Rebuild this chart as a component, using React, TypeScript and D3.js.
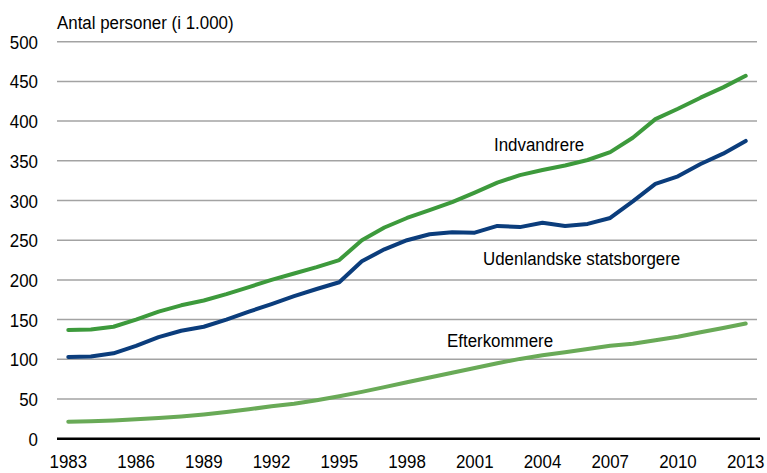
import React, { useRef, useEffect } from "react";
import * as d3 from "d3";

const years = d3.range(1983, 2014);
const yearTicks = [1983, 1986, 1989, 1992, 1995, 1998, 2001, 2004, 2007, 2010, 2013];
const yTicks = [0, 50, 100, 150, 200, 250, 300, 350, 400, 450, 500];

const indvandrere = [
  137, 137.5, 141, 150, 160, 168, 174, 182, 191, 200, 208, 216, 225, 250, 266, 278,
  288, 298, 310, 322.5, 332, 338.5, 344, 351, 361, 379, 402.5, 415.5, 429.5, 442.5, 457,
];
const udenlandske = [
  103, 103.5, 107.5, 117, 128, 136, 141, 150, 160, 169.5, 179.5, 188.5, 197, 223.5, 238.5, 250,
  257.5, 260, 259.5, 268, 266.5, 272, 268, 270.5, 278, 299, 321, 330.5, 346, 359, 375,
];
const efterkommere = [
  21.5, 22, 23, 24.5, 26, 28, 30.5, 33.5, 37, 41, 44, 48.5, 53.5, 59, 65, 71,
  77, 83, 89, 95, 100.5, 105, 109, 113, 117, 119.5, 124, 128.5, 134, 139.5, 145,
];

const series = [
  { name: "Indvandrere", values: indvandrere, color: "#3d9a3c", label: [494, 144] },
  { name: "Udenlandske statsborgere", values: udenlandske, color: "#0b3d7c", label: [483, 258] },
  { name: "Efterkommere", values: efterkommere, color: "#69aa57", label: [447, 340] },
];

const W = 767;
const H = 473;
const FONT = "'Liberation Sans', Arial, sans-serif";
const FS = 19;
const SX = 0.89;

const App = () => {
  const svgRef = useRef<SVGSVGElement>(null);

  useEffect(() => {
    const svg = d3.select(svgRef.current);
    svg.selectAll("*").remove();

    const x = d3.scalePoint<number>().domain(years).range([57, 757]).padding(0.5);
    const y = d3.scaleLinear().domain([0, 500]).range([438.7, 41.7]);

    // gridlines
    svg.append("g")
      .selectAll("line")
      .data(yTicks.filter(d => d > 0))
      .join("line")
      .attr("x1", 57)
      .attr("x2", 757)
      .attr("y1", d => y(d))
      .attr("y2", d => y(d))
      .attr("stroke", "#a3a3a3")
      .attr("stroke-width", 1.5);

    // y labels
    svg.append("g")
      .selectAll("text")
      .data(yTicks)
      .join("text")
      .attr("transform", d => `translate(38,${y(d) + 7}) scale(${SX},1)`)
      .attr("text-anchor", "end")
      .attr("font-family", FONT)
      .attr("font-size", FS)
      .attr("fill", "#000")
      .text(d => d);

    // x axis
    svg.append("line")
      .attr("x1", 57)
      .attr("x2", 760)
      .attr("y1", y(0))
      .attr("y2", y(0))
      .attr("stroke", "#000")
      .attr("stroke-width", 2.5);

    svg.append("g")
      .selectAll("text")
      .data(yearTicks)
      .join("text")
      .attr("transform", d => `translate(${x(d)},468) scale(${SX},1)`)
      .attr("text-anchor", "middle")
      .attr("font-family", FONT)
      .attr("font-size", FS)
      .attr("fill", "#000")
      .text(d => d);

    // title
    svg.append("text")
      .attr("transform", `translate(57,29) scale(${SX},1)`)
      .attr("font-family", FONT)
      .attr("font-size", FS)
      .attr("fill", "#000")
      .text("Antal personer (i 1.000)");

    const line = d3.line<number>()
      .x((d, i) => x(years[i]) as number)
      .y(d => y(d));

    series.forEach(s => {
      svg.append("path")
        .datum(s.values)
        .attr("fill", "none")
        .attr("stroke", s.color)
        .attr("stroke-width", 4)
        .attr("stroke-linejoin", "round")
        .attr("stroke-linecap", "round")
        .attr("d", line);

      svg.append("text")
        .attr("transform", `translate(${s.label[0]},${s.label[1] + 7}) scale(${SX},1)`)
        .attr("font-family", FONT)
        .attr("font-size", FS)
        .attr("fill", "#000")
        .text(s.name);
    });
  }, []);

  return (
    <div style={{ position: "absolute", left: 0, top: 0, width: W, height: H, background: "#fff" }}>
      <svg ref={svgRef} width={W} height={H} viewBox={`0 0 ${W} ${H}`}></svg>
    </div>
  );
};

export default App;
